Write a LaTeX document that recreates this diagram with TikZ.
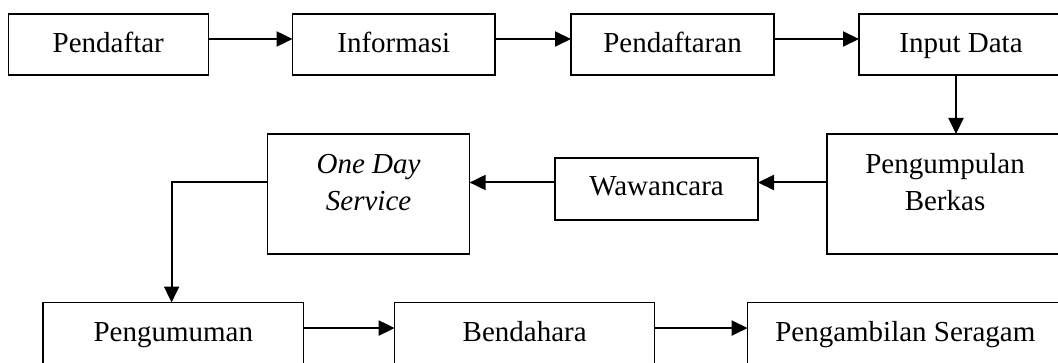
\documentclass[tikz,border=0pt]{standalone}
\usepackage{fontspec}
\setmainfont{Liberation Serif}
\usetikzlibrary{arrows.meta}

\begin{document}
\begin{tikzpicture}[x=0.5pt,y=-0.5pt,
  box/.style={draw,line width=0.65pt,inner sep=0pt,outer sep=0pt,align=center,anchor=north west,
    font=\fontsize{14.5}{18.5}\selectfont},
  flow/.style={line width=1pt,-{Triangle[length=8pt,width=7.5pt]}}]
\path[use as bounding box] (0,0) rectangle (1058,363);
\clip (0,0) rectangle (1058,363);
% first row
\node[box,minimum width=100pt,text height=19.2pt,text depth=11.3pt] (pendaftar) at (8.3,14) {Pendaftar};
\node[box,minimum width=101.2pt,text height=19.2pt,text depth=11.3pt] (informasi) at (292.6,14) {Informasi};
\node[box,minimum width=101.5pt,text height=19.2pt,text depth=11.3pt] (pendaftaran) at (571,14) {Pendaftaran};
\node[box,minimum width=102pt,text height=19.2pt,text depth=11.3pt] (inputdata) at (859,14) {Input Data};
% second row
\node[box,minimum width=101pt,text height=38.2pt,text depth=21.8pt] (ods) at (267.6,134) {\itshape One Day\\\itshape Service};
\node[box,minimum width=101.5pt,text height=19pt,text depth=12pt] (wawancara) at (555,158) {Wawancara};
\node[box,minimum width=118pt,text height=38.2pt,text depth=21.8pt] (berkas) at (827,134) {Pengumpulan\\Berkas};
% third row
\node[box,minimum width=130.3pt,text height=19.25pt,text depth=19.5pt] (pengumuman) at (43,302.5) {Pengumuman};
\node[box,minimum width=130pt,text height=19.25pt,text depth=19.5pt] (bendahara) at (394.7,302.5) {Bendahara};
\node[box,minimum width=157.7pt,text height=19.25pt,text depth=19.5pt] (seragam) at (747.6,302.5) {Pengambilan Seragam};

\draw[flow] ([yshift=2.75pt]pendaftar.east) -- ([yshift=2.75pt]informasi.west);
\draw[flow] ([yshift=2.75pt]informasi.east) -- ([yshift=2.75pt]pendaftaran.west);
\draw[flow] ([yshift=2.75pt]pendaftaran.east) -- ([yshift=2.75pt]inputdata.west);
\draw[flow] ([xshift=-2.5pt]inputdata.south) -- ([xshift=-2.5pt]inputdata.south |- berkas.north);
\draw[flow] ([yshift=3.25pt]wawancara.east -| berkas.west) -- ([yshift=3.25pt]wawancara.east);
\draw[flow] ([yshift=3.25pt]wawancara.west) -- ([yshift=3.25pt]wawancara.west -| ods.east);
\draw[flow] ([yshift=5.75pt]ods.west) -| ([xshift=-0.85pt]pengumuman.north);
\draw[flow] ([yshift=6.6pt]pengumuman.east) -- ([yshift=6.6pt]bendahara.west);
\draw[flow] ([yshift=6.6pt]bendahara.east) -- ([yshift=6.6pt]seragam.west);
\end{tikzpicture}
\end{document}
